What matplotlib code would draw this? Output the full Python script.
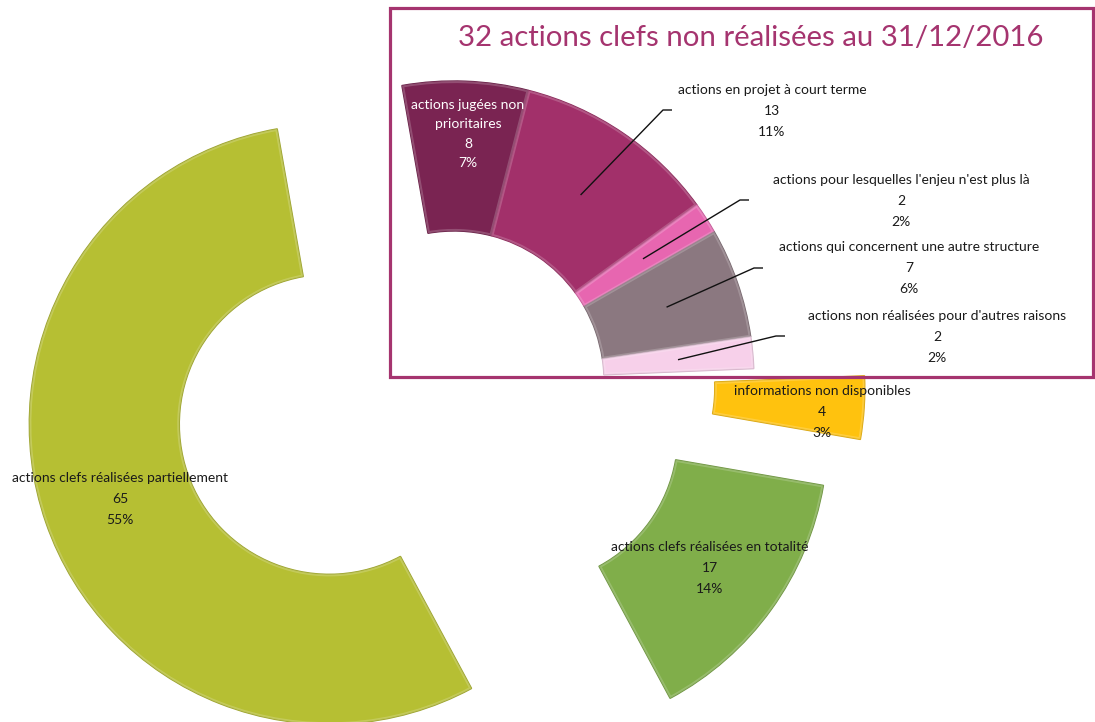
import matplotlib
matplotlib.use("Agg")
import matplotlib.pyplot as plt
import matplotlib.patches as mpatches
import numpy as np

# ── Data ───────────────────────────────────────────────────────────
categories = [
    "actions jugées non\nprioritaires",
    "actions en projet à court terme",
    "actions pour lesquelles l'enjeu n'est plus là",
    "actions qui concernent une autre structure",
    "actions non réalisées pour d'autres raisons",
    "informations non disponibles",
    "actions clefs réalisées en totalité",
    "actions clefs réalisées partiellement",
]
counts = [8, 13, 2, 7, 2, 4, 17, 65]
title = "32 actions clefs non réalisées au 31/12/2016"

# ── Style ──────────────────────────────────────────────────────────
colors = ["#7A2452", "#A2306A", "#E766B0", "#8B7880",
          "#F7D0EA", "#FFC20E", "#80AE4A", "#B6BF33"]
explode = [0, 0, 0, 0, 0, 111, 91, 132]      # px, like Excel's point explosion
W, H = 1095, 722
CX, CY = 454, H - 381                        # donut centre (pixels, y up)
R, RING = 300, 150
FONT = ["Liberation Sans Narrow", "Lato", "DejaVu Sans"]
C_BOX = "#A5346F"

# label block centres (image pixels, y down), line spacing, leader elbows
label_pos = [(468, 134), (772, 111), (901, 201), (909, 268),
             (937, 337), (822, 412), (710, 568), (120, 499)]
label_gap = [1.75, 1.85, 1.85, 1.9, 1.85, 1.9, 1.9, 1.95]
leader_elbow = {1: (663, 110), 2: (740, 200), 3: (754, 268), 4: (776, 336)}


def shade(c, k):
    """k > 0 mixes with white, k < 0 darkens."""
    rgb = np.array(matplotlib.colors.to_rgb(c))
    return tuple(rgb + (1 - rgb) * k) if k > 0 else tuple(rgb * (1 + k))


fig = plt.figure(figsize=(W / 100, H / 100), dpi=100)
ax = fig.add_axes([0, 0, 1, 1])

wedges, _ = ax.pie(counts, colors=colors, explode=explode, radius=R,
                   center=(CX, CY), startangle=100, counterclock=False,
                   wedgeprops=dict(width=RING, linewidth=1.0))
for w, c in zip(wedges, colors):
    w.set_edgecolor(shade(c, -0.15))
    # soft bevel: a light rim kept inside the slice
    rim = mpatches.Wedge(w.center, w.r, w.theta1, w.theta2, width=w.width,
                         facecolor="none", edgecolor=shade(c, 0.35),
                         linewidth=3.0, alpha=0.55, zorder=w.get_zorder() + 0.1)
    ax.add_patch(rim)
    rim.set_clip_path(w)

ax.set_xlim(0, W)
ax.set_ylim(0, H)
ax.set_aspect("auto")
ax.axis("off")

total = sum(counts)
for i, (w, name, n) in enumerate(zip(wedges, categories, counts)):
    pct = round(100 * n / total)
    tx, ty = label_pos[i]
    ax.text(tx, H - ty, f"{name}\n{n}\n{pct}%", ha="center", va="center",
            fontsize=10, family=FONT, linespacing=label_gap[i],
            color="white" if i == 0 else "#1A1A1A", zorder=5)

    if i in leader_elbow:
        # leader line from the middle of the wedge to the label
        tm = np.deg2rad((w.theta1 + w.theta2) / 2)
        sx = w.center[0] + 0.75 * R * np.cos(tm)
        sy = w.center[1] + 0.75 * R * np.sin(tm)
        ex, ey = leader_elbow[i]
        ax.plot([sx, ex, ex + 9], [sy, H - ey, H - ey], color="#111111",
                lw=1.0, zorder=4, solid_capstyle="butt")

# ── Inset frame and title ─────────────────────────────────────────
ax.add_patch(mpatches.Rectangle((390, H - 377), 703, 369, fill=False,
                                edgecolor=C_BOX, linewidth=2.3, zorder=6))
ax.text(751, H - 38, title, ha="center", va="center", fontsize=21.2,
        family=["Lato", "DejaVu Sans"], color="#A5346F", zorder=6)

fig.savefig("out.png", dpi=100)
